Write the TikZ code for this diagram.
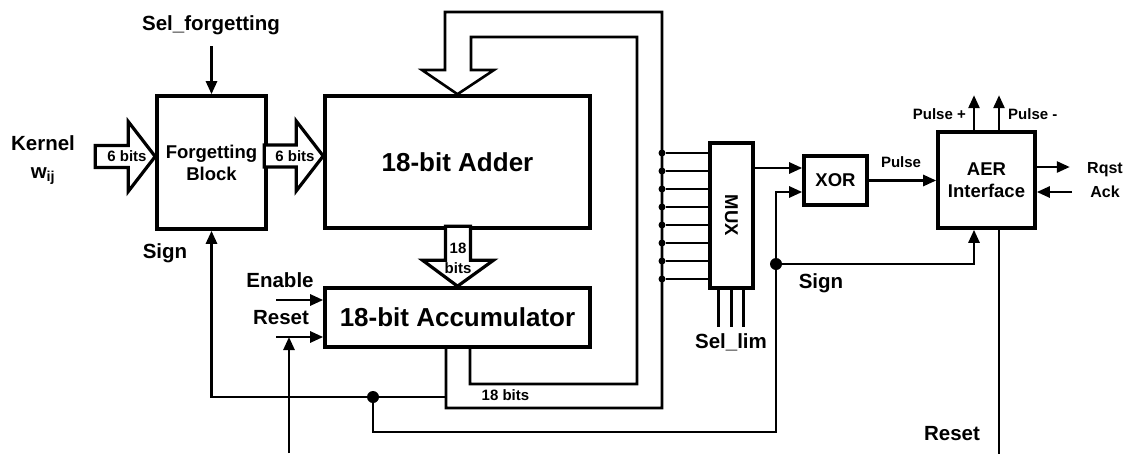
\documentclass[tikz,border=0pt]{standalone}
\usepackage{fontspec}
\setmainfont{Liberation Sans}
\usetikzlibrary{arrows.meta, positioning, calc}

\begin{document}
\begin{tikzpicture}[
        x=1pt, y=-1pt,
        every node/.style={inner sep=0pt},
        blk/.style={
            rectangle, draw=black, line width=3.6pt, fill=white,
            align=center, font=\fontsize{18.5}{22}\selectfont\bfseries
        },
        bigblk/.style={blk, font=\fontsize{26}{28}\selectfont\bfseries},
        lbl/.style={font=\fontsize{20.5}{24}\selectfont\bfseries, anchor=base},
        smlbl/.style={font=\fontsize{15}{18}\selectfont\bfseries, anchor=base},
        wire/.style={line width=2.6pt},
        sig/.style={wire, -{Triangle[length=13pt, width=11pt]}},
        fat/.style={line width=3.2pt, fill=white, line join=miter},
        bus/.style={line width=2.6pt, line join=miter},
        tap/.style={circle, fill=black, minimum size=7pt}
        ]

    \useasboundingbox (0,0) rectangle (1124,453);

    % --- Blocks ---
        \node[blk, minimum width=109pt, minimum height=133pt] (forget) at (211.5,162.5)
            {Forgetting\\Block};
        \node[bigblk, minimum width=265pt, minimum height=132pt] (adder) at (457.5,162)
            {18-bit Adder};
        \node[bigblk, minimum width=265pt, minimum height=59pt] (accum) at (457.5,317.5)
            {18-bit Accumulator};
        \node[blk, minimum width=43pt, minimum height=145pt] (mux) at (731.5,215.5)
            {\rotatebox{-90}{MUX}};
        \node[blk, minimum width=63pt, minimum height=49pt] (xor) at (835.5,180.5)
            {XOR};
        \node[blk, minimum width=97pt, minimum height=96pt] (aer) at (986.5,180)
            {AER\\Interface};

    % --- Fat bus arrows ---
        \draw[fat] ([yshift=6pt]forget.west) -- ++(-27,-35) -- ++(0,24) -- ++(-33,0)
            -- ++(0,22) -- ++(33,0) -- ++(0,24) -- cycle;
        \draw[fat] ([yshift=6pt]adder.west) -- ++(-27,-35) -- ++(0,24) -- ++(-32,0)
            -- ++(0,22) -- ++(32,0) -- ++(0,24) -- cycle;
        \draw[fat] (accum.north) -- ++(-35,-26) -- ++(23,0) -- ++(0,-34) -- ++(25,0)
            -- ++(0,34) -- ++(23,0) -- cycle;

        \node[smlbl] (kin) at (127,161) {6 bits};
        \node[smlbl] (fout) at (295,161) {6 bits};
        \node[smlbl] (sumA) at (458,253) {18};
        \node[smlbl] (sumB) at (458,273) {bits};

    % --- Feedback bus: accumulator back to the adder ---
        \coordinate (bo) at (662,408);
        \coordinate (bi) at (637,384);
        \draw[bus] ([xshift=-11.5pt]accum.south) |- (bo) |- (445,12) -- (445,70)
            -- (422,70) -- (adder.north) -- (494,70) -- (471,70) -- (471,37)
            -| (bi) -| ([xshift=12.5pt]accum.south);
        \node[smlbl] (fbl) at (505.5,400) {18 bits};

    % --- Taps into the MUX ---
        \foreach \i in {0,...,7} {
            \node[tap] (tap\i) at (662,153+18*\i) {};
            \draw[wire] (tap\i) -- (tap\i -| mux.west);
        }
        \foreach \dx in {-13,0,12}
            \draw[wire] ([xshift=\dx pt]mux.south) -- ++(0,37);

    % --- Inputs ---
        \node[lbl] (kernel) at (43,150) {Kernel};
        \node[lbl] (wij) at (43,178) {w\textsubscript{ij}};
        \node[lbl] (selfg) at (211,30.5) {Sel\_forgetting};
        \coordinate (selin) at (211.5,46);
        \draw[sig] (selin) -- (forget.north);

        \node[lbl] (enlbl) at (280,287) {Enable};
        \node[lbl] (rslbl) at (281,324) {Reset};
        \coordinate (enin) at (276,300);
        \coordinate (rsin) at (276,337);
        \coordinate (rsbot) at (289,453);
        \draw[sig] (enin) -- (enin -| accum.west);
        \draw[sig] (rsin) -- (rsin -| accum.west);
        \draw[sig] (rsbot) -- (rsbot |- rsin);

    % --- Sign path ---
        \coordinate (msb) at (446,397);
        \coordinate (split) at (373,397);
        \coordinate (sgndot) at (776,264);
        \draw[sig] (msb) -| (forget.south);
        \draw[wire] (split) -- ++(0,35) -| (sgndot);
        \fill (split) circle (6pt);
        \fill (sgndot) circle (6pt);
        \node[lbl] (sgnA) at (165,258) {Sign};
        \node[lbl] (sgnB) at (821,288) {Sign};
        \node[lbl] (sellim) at (731,348) {Sel\_lim};

    % --- XOR and AER interface ---
        \coordinate (xorin) at ([yshift=12.5pt]xor.west);
        \draw[sig] (mux.east |- xorin) -- (xorin);
        \draw[sig] (sgndot) |- ([yshift=-11.5pt]xor.west);
        \draw[sig] (sgndot) -| ([xshift=-12.5pt]aer.south);
        \draw[sig] (xor.east) -- (xor.east -| aer.west);
        \node[smlbl] (pulse) at (901,167) {Pulse};

        \draw[sig] ([xshift=-12.5pt]aer.north) -- ++(0,-35);
        \draw[sig] ([xshift=12.5pt]aer.north) -- ++(0,-35);
        \node[smlbl, anchor=base east] (pplus) at (966,119) {Pulse +};
        \node[smlbl, anchor=base west] (pminus) at (1008,119) {Pulse -};

        \coordinate (ackin) at (1072,192);
        \draw[sig] ([yshift=13pt]aer.east) -- ++(33,0);
        \draw[sig] (ackin) -- (ackin -| aer.east);
        \node[smlbl, font=\fontsize{16}{18}\selectfont\bfseries] (rqst) at (1105,173) {Rqst};
        \node[smlbl, font=\fontsize{16}{18}\selectfont\bfseries] (ack) at (1105,197) {Ack};

        \draw[wire] ([xshift=12.5pt]aer.south) -- ++(0,225);
        \node[lbl] (rsaer) at (952,440) {Reset};

    \end{tikzpicture}
\end{document}
